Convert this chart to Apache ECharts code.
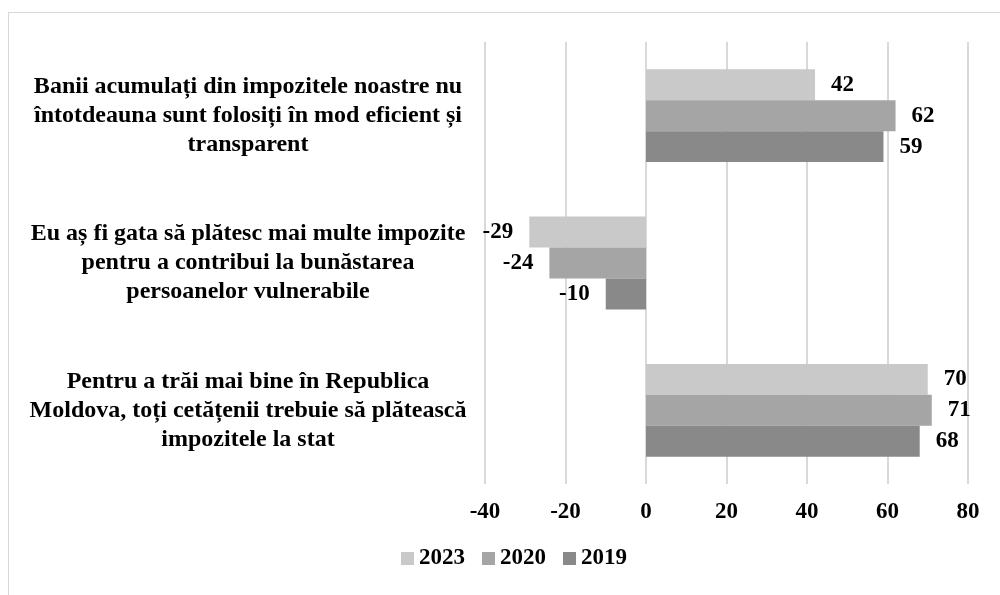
<!DOCTYPE html>
<html>
<head>
<meta charset="utf-8">
<script src="https://cdn.jsdelivr.net/npm/echarts@6/dist/echarts.min.js"></script>
<style>
  html, body { margin: 0; padding: 0; background: #fff; }
  #main { width: 1000px; height: 595px; position: relative; }
  #frame {
    position: absolute; left: 8px; top: 12px; width: 1010px; height: 600px;
    border: 1px solid #d9d9d9; pointer-events: none; box-sizing: border-box;
  }
</style>
</head>
<body>
<div id="main"></div>
<div id="frame"></div>
<script>
const categories = [
  'Banii acumulați din impozitele noastre nu\nîntotdeauna sunt folosiți în mod eficient și\ntransparent',
  'Eu aș fi gata să plătesc mai multe impozite\npentru a contribui la bunăstarea\npersoanelor vulnerabile',
  'Pentru a trăi mai bine în Republica\nMoldova, toți cetățenii trebuie să plătească\nimpozitele la stat',
];
const years = ['2023', '2020', '2019'];
const values2023 = [42, -29, 70];
const values2020 = [62, -24, 71];
const values2019 = [59, -10, 68];
const colors = ['#c9c9c9', '#a5a5a5', '#898989'];

const myChart = echarts.init(document.getElementById('main'));
const font = 'Liberation Serif, Times New Roman, serif';

const makeSeries = (name, data, color) => ({
  name: name,
  type: 'bar',
  data: data.map((v) => ({
    value: v,
    label: { position: v < 0 ? 'left' : 'right' },
  })),
  itemStyle: { color: color },
  barGap: '0%',
  barCategoryGap: '37%',
  label: {
    show: true,
    distance: 16,
    fontFamily: font,
    fontWeight: 'bold',
    fontSize: 23,
    color: '#000',
  },
});

const option = {
  animation: false,
  textStyle: { fontFamily: font },
  grid: { left: 485, right: 32, top: 42, bottom: 111 },
  legend: {
    bottom: 20,
    left: 396,
    itemWidth: 13,
    itemHeight: 13,
    itemGap: 17,
    icon: 'rect',
    textStyle: { fontFamily: font, fontWeight: 'bold', fontSize: 23, color: '#000' },
    data: years,
  },
  xAxis: {
    type: 'value',
    min: -40,
    max: 80,
    interval: 20,
    axisLine: { show: false },
    axisTick: { show: false },
    splitLine: { lineStyle: { color: '#d9d9d9', width: 2 } },
    axisLabel: {
      margin: 17,
      fontFamily: font,
      fontWeight: 'bold',
      fontSize: 23,
      color: '#000',
    },
  },
  yAxis: {
    type: 'category',
    inverse: true,
    data: categories,
    axisLine: { show: false },
    axisTick: { show: false },
    axisLabel: {
      align: 'center',
      margin: 237,
      fontFamily: font,
      fontWeight: 'bold',
      fontSize: 24,
      lineHeight: 29,
      color: '#000',
    },
  },
  series: [
    makeSeries('2023', values2023, colors[0]),
    makeSeries('2020', values2020, colors[1]),
    makeSeries('2019', values2019, colors[2]),
  ],
};

myChart.setOption(option);
</script>
</body>
</html>
